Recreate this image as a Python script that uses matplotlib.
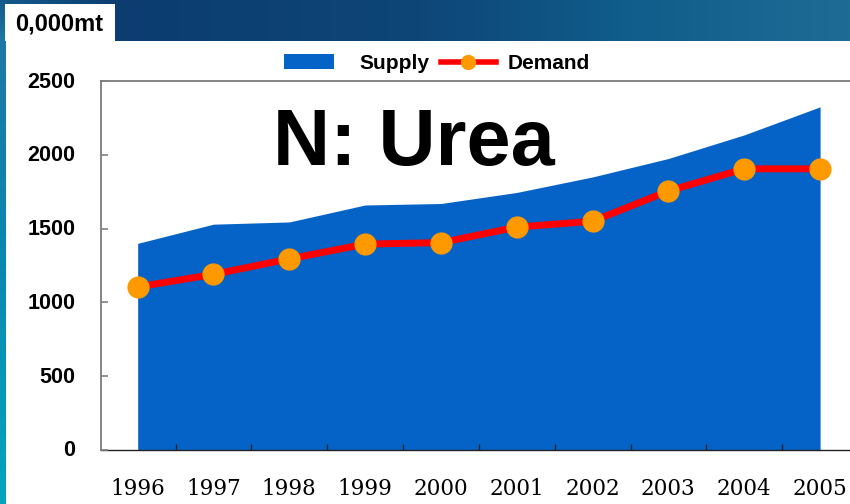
import numpy as np
import matplotlib
matplotlib.use("Agg")
import matplotlib.pyplot as plt
from matplotlib.patches import Patch, Rectangle
from matplotlib.lines import Line2D
from matplotlib.transforms import ScaledTranslation

years = ["1996", "1997", "1998", "1999", "2000", "2001", "2002", "2003", "2004", "2005"]
supply = [1400, 1530, 1545, 1660, 1670, 1745, 1850, 1975, 2135, 2325]
demand = [1105, 1190, 1295, 1395, 1405, 1510, 1550, 1755, 1905, 1905]
y_ticks = [0, 500, 1000, 1500, 2000, 2500]

W, H = 850, 504
fig = plt.figure(figsize=(W / 100, H / 100), dpi=100, facecolor="white")

def px_axes(x0, y0, x1, y1, **kw):
    return fig.add_axes([x0 / W, 1 - y1 / H, (x1 - x0) / W, (y1 - y0) / H], **kw)

# decorative slide background
bg = px_axes(0, 0, W, H)
bg.set_axis_off()
bg.set_xlim(0, W)
bg.set_ylim(H, 0)
stops_x = np.array([0, 120, 420, 620, 850])
stops_c = np.array([[20, 90, 140], [12, 60, 112], [14, 70, 120], [16, 92, 138], [30, 108, 150]]) / 255
g = np.stack([np.interp(np.linspace(0, W, 425), stops_x, stops_c[:, i]) for i in range(3)], axis=-1)[None, :, :]
bg.imshow(g, extent=(0, W, 41, 0), aspect="auto", interpolation="bilinear")
sy = np.array([0, 41, 250, 504])
sc = np.array([[20, 90, 140], [30, 120, 165], [10, 135, 175], [4, 165, 190]]) / 255
s = np.stack([np.interp(np.linspace(0, H, 252), sy, sc[:, i]) for i in range(3)], axis=-1)[:, None, :]
bg.imshow(s, extent=(0, 6, H, 0), aspect="auto", interpolation="bilinear")
bg.set_xlim(0, W)
bg.set_ylim(H, 0)
bg.add_patch(Rectangle((6, 41), W - 6, H - 41, fc="white", ec="none"))
bg.add_patch(Rectangle((5, 4), 110, 37, fc="white", ec="none"))
bg.text(15, 24, "0,000mt", fontsize=17, fontweight="bold", family="Liberation Sans",
        va="center", ha="left", color="black")

# chart axes (extends past the right figure edge, as in the reference)
ax = px_axes(100.5, 81, 858, 450)
ax.patch.set_alpha(0)
ax.set_axisbelow(False)
x = np.arange(len(years))
ax.fill_between(x, 0, supply, color="#0563C8", lw=0, zorder=1)
ax.plot(x, demand, color="#FF0000", lw=5, zorder=3, solid_joinstyle="round",
        marker="o", ms=16, mfc="#FF9900", mec="#FF9900", mew=0)
ax.set_xlim(-0.49, 9.5)
ax.set_ylim(0, 2500)
ax.set_xticks(x)
ax.set_xticklabels(years, family="DejaVu Serif", fontsize=15.5)
ax.set_xticks(x[:-1] + 0.5, minor=True)
ax.tick_params(axis="x", which="major", length=0, pad=20)
ax.tick_params(axis="x", which="minor", direction="in", length=4.5, width=1, color="#222222")
ax.set_yticks(y_ticks)
ax.set_yticklabels([str(v) for v in y_ticks], family="Liberation Sans", fontweight="bold", fontsize=15.5)
ax.tick_params(axis="y", direction="in", length=5, width=1.2, color="#808080", pad=18)
up = ScaledTranslation(0, 1.5 / 100, fig.dpi_scale_trans)
for lab in ax.get_yticklabels():
    lab.set_transform(lab.get_transform() + up)
for sp in ("left", "top", "right"):
    ax.spines[sp].set_color("#707070")
    ax.spines[sp].set_linewidth(1.2)
ax.spines["bottom"].set_color("#222222")
ax.spines["bottom"].set_linewidth(1.0)

fig.text(414 / W, 1 - 144 / H, "N: Urea", fontsize=57, fontweight="bold", family="Liberation Sans",
         ha="center", va="center", color="black")

legend_font = {"family": "Liberation Sans", "weight": "bold", "size": 15}
leg1 = fig.legend(handles=[Patch(fc="#0563C8", ec="none", label="Supply")], loc="center",
                  bbox_to_anchor=(356.5 / W, 1 - 63.5 / H), frameon=False,
                  handlelength=2.4, handleheight=0.7, handletextpad=1.2, prop=legend_font)
leg2 = fig.legend(handles=[Line2D([], [], color="#FF0000", lw=4, marker="o", ms=10, mfc="#FF9900",
                                  mec="#FF9900", label="Demand")], loc="center",
                  bbox_to_anchor=(515.5 / W, 1 - 63.5 / H), frameon=False,
                  handlelength=2.64, handletextpad=0.58, prop=legend_font)

fig.savefig("out.png", dpi=100, facecolor="white")
